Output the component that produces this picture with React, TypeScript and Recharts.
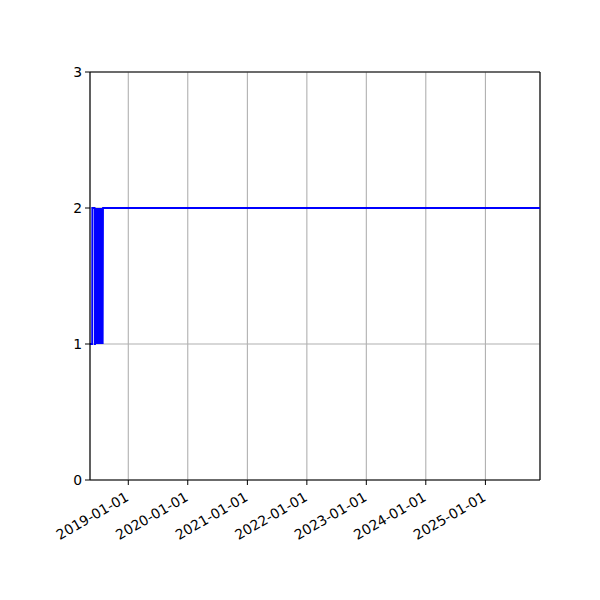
import {
  CartesianGrid,
  Line,
  LineChart,
  ReferenceLine,
  XAxis,
  YAxis,
} from "recharts";

// sample dates and values
const dates = [
  "2018-05-11", "2018-05-24", "2018-05-25", "2018-06-08", "2018-06-09",
  "2018-06-11", "2018-06-12", "2018-06-14", "2018-06-16", "2018-06-18",
  "2018-06-20", "2018-06-22", "2018-06-24", "2018-06-26", "2018-06-28",
  "2018-06-30", "2018-07-02", "2018-07-04", "2018-07-06", "2018-07-08",
  "2018-07-10", "2018-07-12", "2018-07-14", "2018-07-16", "2018-07-18",
  "2018-07-20", "2018-07-22", "2018-07-24", "2018-07-26", "2018-07-28",
  "2018-07-30", "2018-08-01", "2025-12-02",
];
const values = [
  1, 1, 2, 2, 1,
  1, 2, 1, 2, 1,
  2, 1, 2, 1, 2,
  1, 2, 1, 2, 1,
  2, 1, 2, 1, 2,
  1, 2, 1, 2, 1,
  2, 2, 2,
];
const xTickLabels = [
  "2019-01-01", "2020-01-01", "2021-01-01", "2022-01-01",
  "2023-01-01", "2024-01-01", "2025-01-01",
];
const yTicks = [0, 1, 2, 3];

const data = dates.map((d, i) => ({ t: Date.parse(d), v: values[i] }));
const xTicks = xTickLabels.map((d) => Date.parse(d));
const xMin = Date.parse("2018-05-11");
const xMax = Date.parse("2025-12-02");

const FONT = "DejaVu Sans, sans-serif";

function fmtDate(t: number) {
  return new Date(t).toISOString().slice(0, 10);
}

function DateTick(props: any) {
  const { payload } = props;
  const x = props.x - 3;
  const y = props.y + 4;
  return (
    <text
      x={x}
      y={y}
      dy={9}
      textAnchor="end"
      fontFamily={FONT}
      fontSize={13.9}
      fill="#000"
      transform={`rotate(-30, ${x}, ${y})`}
    >
      {fmtDate(payload.value)}
    </text>
  );
}

export default function App() {
  return (
    <div style={{ position: "absolute", left: 0, top: 0, background: "#fff" }}>
      <LineChart
        width={600}
        height={600}
        data={data}
        margin={{ top: 72, right: 60, left: 40, bottom: 60 }}
      >
        <CartesianGrid stroke="#b0b0b0" strokeWidth={1.1} />
        <XAxis
          dataKey="t"
          type="number"
          domain={[xMin, xMax]}
          ticks={xTicks}
          height={60}
          tickSize={5}
          tickMargin={3}
          stroke="#000"
          tickLine={{ stroke: "#000" }}
          axisLine={{ stroke: "#000", strokeWidth: 1.1 }}
          tick={<DateTick />}
          interval={0}
        />
        <YAxis
          domain={[0, 3]}
          ticks={yTicks}
          width={50}
          tickSize={5}
          tickMargin={3}
          stroke="#000"
          axisLine={{ stroke: "#000", strokeWidth: 1.1 }}
          tick={{ fill: "#000", fontFamily: FONT, fontSize: 13.9 }}
          interval={0}
        />
        <ReferenceLine y={3} stroke="#000" strokeWidth={1.1} />
        <ReferenceLine x={xMax} stroke="#000" strokeWidth={1.1} />
        <Line
          type="linear"
          dataKey="v"
          stroke="#0000ff"
          strokeWidth={1.8}
          dot={false}
          isAnimationActive={false}
        />
      </LineChart>
    </div>
  );
}
